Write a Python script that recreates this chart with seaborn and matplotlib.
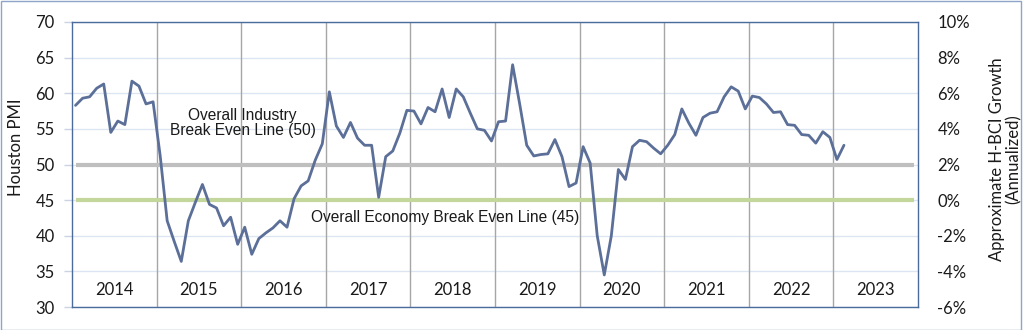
import numpy as np
import pandas as pd
import matplotlib
matplotlib.use("Agg")
import matplotlib.pyplot as plt
import seaborn as sns
from matplotlib.patches import Rectangle

# ---------------- data ----------------
years = [2014, 2015, 2016, 2017, 2018, 2019, 2020, 2021, 2022, 2023]
pmi_2014 = [58.3, 59.3, 59.5, 60.7, 61.3, 54.5, 56.1, 55.6, 61.7, 61.0, 58.5, 58.8]
pmi_2015 = [51.3, 42.1, 39.2, 36.4, 42.1, 44.7, 47.2, 44.4, 43.9, 41.4, 42.6, 38.8]
pmi_2016 = [41.2, 37.4, 39.6, 40.4, 41.1, 42.1, 41.2, 45.2, 47.0, 47.7, 50.6, 52.9]
pmi_2017 = [60.2, 55.4, 53.8, 55.9, 53.7, 52.7, 52.7, 45.4, 51.1, 51.9, 54.4, 57.6]
pmi_2018 = [57.5, 55.7, 58.0, 57.4, 60.6, 56.6, 60.6, 59.5, 57.2, 55.0, 54.8, 53.3]
pmi_2019 = [56.0, 56.1, 64.0, 58.5, 52.7, 51.2, 51.4, 51.5, 53.5, 51.1, 46.9, 47.4]
pmi_2020 = [52.5, 50.2, 40.0, 34.5, 40.0, 49.3, 47.9, 52.5, 53.4, 53.2, 52.3, 51.5]
pmi_2021 = [52.7, 54.2, 57.8, 55.8, 54.1, 56.6, 57.2, 57.4, 59.5, 60.9, 60.3, 57.8]
pmi_2022 = [59.6, 59.4, 58.5, 57.3, 57.4, 55.6, 55.5, 54.2, 54.1, 53.0, 54.6, 53.8]
pmi_2023 = [50.7, 52.7]

left_ticks = [30, 35, 40, 45, 50, 55, 60, 65, 70]
right_ticks = [-6, -4, -2, 0, 2, 4, 6, 8, 10]
industry_break_even = 50
economy_break_even = 45
industry_label = "Overall Industry\nBreak Even Line (50)"
economy_label = "Overall Economy Break Even Line (45)"

pmi = (pmi_2014 + pmi_2015 + pmi_2016 + pmi_2017 + pmi_2018 + pmi_2019
       + pmi_2020 + pmi_2021 + pmi_2022 + pmi_2023)
n_cat = 12 * len(years)
cat_pos = np.arange(n_cat) + 0.5
df = pd.DataFrame({"month": cat_pos[:len(pmi)], "pmi": pmi})

# ---------------- style ----------------
sns.set_theme(style="white")
plt.rcParams["font.family"] = ["Lato", "DejaVu Sans"]

fig = plt.figure(figsize=(10.24, 3.3), dpi=100)
ax = fig.add_axes([72 / 1024, 1 - 307 / 330, (918 - 72) / 1024, 285 / 330])

ax.set_xlim(0, n_cat)
ax.set_ylim(left_ticks[0], left_ticks[-1])

for v in left_ticks:
    ax.axhline(v, color="#dce6f2", lw=1, zorder=0)
for k in range(1, len(years)):
    ax.axvline(12 * k, color="#a6a6a6", lw=1, zorder=1)

ax.hlines(industry_break_even, cat_pos[0], cat_pos[-1], color="#bfbfbf", lw=3, zorder=2)
ax.hlines(economy_break_even, cat_pos[0], cat_pos[-1], color="#c3d69b", lw=3, zorder=2)

sns.lineplot(data=df, x="month", y="pmi", ax=ax, color="#5b6f98", lw=2, zorder=5)

for i, yr in enumerate(years):
    ax.text(12 * i + 6, 32.4, str(yr), ha="center", va="center", fontsize=12, color="#1a1a1a")

ax.text(24.2, 55.8, industry_label, ha="center", va="center", fontsize=11.2,
        family="Liberation Sans", linespacing=1.05, color="#1a1a1a")
ax.text(52.95, 42.5, economy_label, ha="center", va="center", fontsize=11.2,
        family="Liberation Sans", color="#1a1a1a")

ax.set_yticks(left_ticks)
ax.set_yticklabels([str(v) for v in left_ticks])
ax.set_xticks([])
ax.tick_params(axis="y", length=5.5, width=1, color="#c9d3e3", pad=7,
               labelsize=12, labelcolor="#1a1a1a", left=True)
ax.set_xlabel("")
ax.set_ylabel("Houston PMI", fontsize=12, color="#1a1a1a")
ax.yaxis.set_label_coords(-0.057, 0.56)

for s in ax.spines.values():
    s.set_color("#4a6b9c")
    s.set_linewidth(1)

ax2 = ax.twinx()
ax2.set_ylim(right_ticks[0], right_ticks[-1])
ax2.set_yticks(right_ticks)
ax2.set_yticklabels([f"{v}%" for v in right_ticks])
ax2.tick_params(axis="y", length=0, pad=14, labelsize=12, labelcolor="#1a1a1a")
ax2.set_ylabel("Approximate H-BCI Growth\n(Annualized)", fontsize=12, color="#1a1a1a",
               linespacing=1.0)
ax2.yaxis.set_label_coords(1.084, 0.52)
for s in ax2.spines.values():
    s.set_visible(False)

fig.patches.append(Rectangle((0.5 / 1024, 0.5 / 330), 1020 / 1024, 328.5 / 330,
                             transform=fig.transFigure, fill=False,
                             edgecolor="#8ea4c8", lw=1))

fig.savefig("out.png", dpi=100)
